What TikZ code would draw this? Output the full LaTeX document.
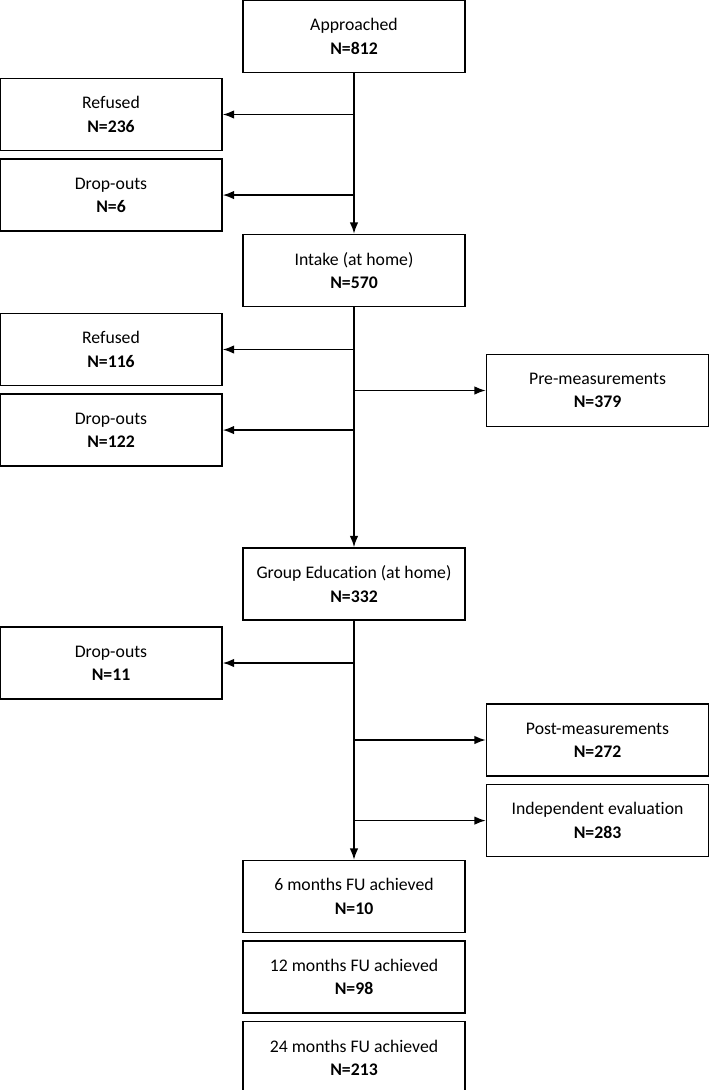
\documentclass[tikz,border=0pt]{standalone}
\usepackage{fontspec}
\setmainfont{Carlito}[Ligatures=NoCommon]
\usetikzlibrary{
  positioning,
  arrows.meta
}

\begin{document}
\begin{tikzpicture}[
    x=0.025cm,y=-0.025cm,
    node distance=0.175cm,
    flowBox/.style={draw,line width=1.1pt,minimum width=5.55cm,minimum height=1.8cm,
      inner sep=0pt,align=center,font=\fontsize{12.6}{16.6}\selectfont},
    flowArrow/.style={-{Latex[length=8pt,width=6pt]},line width=1pt},
  ]
    \useasboundingbox (0,0) rectangle (709,1090);

    % main column
    \node[flowBox] (approached) at (354,36.5) {Approached\\\textbf{N=812}};
    \node[flowBox] (intake) at (354,270.5) {Intake (at home)\\\textbf{N=570}};
    \node[flowBox] (group) at (354,584) {Group Education (at home)\\\textbf{N=332}};
    \node[flowBox] (fuSix) at (354,896.5) {6 months FU achieved\\\textbf{N=10}};
    \node[flowBox, below=of fuSix] (fuTwelve) {12 months FU achieved\\\textbf{N=98}};
    \node[flowBox, below=of fuTwelve] (fuTwentyFour) {24 months FU achieved\\\textbf{N=213}};

    \draw[flowArrow] (approached) -- (intake);
    \draw[flowArrow] (intake) -- (group);
    \draw[flowArrow] (group) -- (fuSix);

    % left column
    \node[flowBox] (refusedA) at (111,114.5) {Refused\\\textbf{N=236}};
    \node[flowBox, below=of refusedA] (dropA) {Drop-outs\\\textbf{N=6}};
    \node[flowBox] (refusedB) at (111,349.5) {Refused\\\textbf{N=116}};
    \node[flowBox, below=of refusedB] (dropB) {Drop-outs\\\textbf{N=122}};
    \node[flowBox] (dropC) at (111,663) {Drop-outs\\\textbf{N=11}};

    % right column
    \node[flowBox] (pre) at (597.5,390.5) {Pre-measurements\\\textbf{N=379}};
    \node[flowBox] (post) at (597.5,740) {Post-measurements\\\textbf{N=272}};
    \node[flowBox, below=of post] (indep) {Independent evaluation\\\textbf{N=283}};

    % branches
    \draw[flowArrow] (approached.south |- refusedA.east) -- (refusedA.east);
    \draw[flowArrow] (approached.south |- dropA.east) -- (dropA.east);
    \draw[flowArrow] (intake.south |- refusedB.east) -- (refusedB.east);
    \draw[flowArrow] (intake.south |- dropB.east) -- (dropB.east);
    \draw[flowArrow] (intake.south |- pre.west) -- (pre.west);
    \draw[flowArrow] (group.south |- dropC.east) -- (dropC.east);
    \draw[flowArrow] (group.south |- post.west) -- (post.west);
    \draw[flowArrow] (group.south |- indep.west) -- (indep.west);
  \end{tikzpicture}
\end{document}
